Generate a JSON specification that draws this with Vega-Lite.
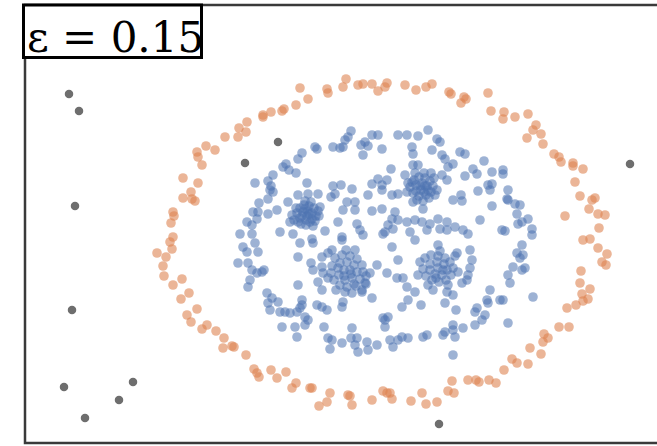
{
"$schema":"https://vega.github.io/schema/vega-lite/v6.json",
"width":634,"height":438,
"autosize":"none",
"padding":{"left":25,"top":5,"right":0,"bottom":3},
"background":"white",
"config":{"view":{"stroke":"#3a3a3a","strokeWidth":2.5}},
"datasets":{
"orange":[{"x":346,"y":79},{"x":343,"y":87},{"x":327,"y":89},{"x":328,"y":93},{"x":300,"y":88},{"x":308,"y":99},{"x":296,"y":105},{"x":284,"y":109},{"x":282,"y":111},{"x":271,"y":112},{"x":263,"y":115},{"x":263,"y":117},{"x":247,"y":122},{"x":239,"y":128},{"x":246,"y":132},{"x":238,"y":137},{"x":225,"y":137},{"x":206,"y":146},{"x":215,"y":150},{"x":197,"y":152},{"x":198,"y":157},{"x":202,"y":165},{"x":183,"y":178},{"x":198,"y":183},{"x":191,"y":192},{"x":183,"y":198},{"x":195,"y":201},{"x":192,"y":199},{"x":173,"y":212},{"x":174,"y":216},{"x":171,"y":223},{"x":173,"y":237},{"x":170,"y":242},{"x":358,"y":85},{"x":363,"y":84},{"x":372,"y":84},{"x":378,"y":91},{"x":387,"y":83},{"x":385,"y":87},
{"x":405,"y":85},{"x":416,"y":90},{"x":426,"y":87},{"x":432,"y":84},{"x":449,"y":92},{"x":451,"y":94},{"x":464,"y":97},{"x":466,"y":99},{"x":461,"y":103},{"x":488,"y":93},{"x":491,"y":111},{"x":504,"y":112},{"x":503,"y":119},{"x":515,"y":117},{"x":528,"y":114},{"x":536,"y":125},{"x":533,"y":130},{"x":541,"y":134},{"x":527,"y":138},{"x":543,"y":144},{"x":554,"y":154},{"x":559,"y":157},{"x":561,"y":162},{"x":573,"y":163},{"x":573,"y":166},{"x":583,"y":169},{"x":575,"y":182},{"x":580,"y":196},{"x":592,"y":200},{"x":595,"y":198},{"x":589,"y":209},{"x":598,"y":214},{"x":605,"y":215},{"x":565,"y":216},{"x":599,"y":228},{"x":583,"y":240},{"x":590,"y":239},{"x":598,"y":248},
{"x":607,"y":254},{"x":602,"y":262},{"x":606,"y":265},{"x":581,"y":271},{"x":580,"y":283},{"x":590,"y":289},{"x":582,"y":294},{"x":583,"y":301},{"x":588,"y":299},{"x":576,"y":305},{"x":567,"y":308},{"x":559,"y":327},{"x":569,"y":327},{"x":544,"y":334},{"x":548,"y":338},{"x":543,"y":342},{"x":530,"y":348},{"x":541,"y":354},{"x":512,"y":359},{"x":517,"y":363},{"x":528,"y":364},{"x":504,"y":370},{"x":489,"y":380},{"x":496,"y":383},{"x":479,"y":382},{"x":476,"y":380},{"x":468,"y":380},{"x":452,"y":381},{"x":448,"y":391},{"x":454,"y":393},{"x":437,"y":402},{"x":422,"y":393},{"x":411,"y":401},{"x":426,"y":404},{"x":392,"y":399},{"x":390,"y":393},
{"x":157,"y":253},{"x":166,"y":257},{"x":172,"y":249},{"x":163,"y":266},{"x":164,"y":276},{"x":173,"y":285},{"x":182,"y":279},{"x":189,"y":293},{"x":181,"y":299},{"x":197,"y":309},{"x":187,"y":315},{"x":191,"y":322},{"x":207,"y":325},{"x":202,"y":329},{"x":216,"y":331},{"x":224,"y":338},{"x":223,"y":348},{"x":232,"y":346},{"x":234,"y":347},{"x":246,"y":355},{"x":254,"y":369},{"x":257,"y":373},{"x":259,"y":377},{"x":271,"y":370},{"x":277,"y":378},{"x":286,"y":372},{"x":296,"y":383},{"x":292,"y":388},{"x":310,"y":388},{"x":312,"y":388},{"x":330,"y":393},{"x":327,"y":402},{"x":319,"y":406},{"x":348,"y":395},{"x":350,"y":396},{"x":352,"y":405},{"x":372,"y":400},{"x":383,"y":391},{"x":387,"y":393}],
"blue":[{"x":351,"y":131},{"x":348,"y":137},{"x":345,"y":140},{"x":372,"y":135},{"x":378,"y":135},{"x":365,"y":142},{"x":361,"y":145},{"x":368,"y":146},{"x":363,"y":155},{"x":382,"y":149},{"x":333,"y":147},{"x":340,"y":148},{"x":343,"y":147},{"x":315,"y":147},{"x":317,"y":149},{"x":302,"y":153},{"x":298,"y":159},{"x":286,"y":164},{"x":283,"y":167},{"x":289,"y":170},{"x":296,"y":173},{"x":273,"y":175},{"x":268,"y":181},{"x":255,"y":183},{"x":271,"y":186},{"x":270,"y":190},{"x":273,"y":192},{"x":307,"y":183},{"x":333,"y":186},{"x":341,"y":185},{"x":352,"y":189},{"x":335,"y":194},{"x":331,"y":197},{"x":318,"y":194},{"x":308,"y":194},{"x":298,"y":195},{"x":268,"y":199},{"x":259,"y":203},{"x":288,"y":202},{"x":347,"y":202},{"x":355,"y":202},{"x":368,"y":195},{"x":372,"y":184},{"x":378,"y":179},{"x":382,"y":185},{"x":382,"y":190},{"x":343,"y":210},{"x":355,"y":210},{"x":372,"y":211},{"x":382,"y":209},{"x":253,"y":212},{"x":258,"y":212},{"x":277,"y":210},{"x":268,"y":214},{"x":257,"y":219},{"x":247,"y":222},{"x":252,"y":225},{"x":240,"y":234},{"x":252,"y":234},{"x":280,"y":232},{"x":290,"y":222},{"x":293,"y":234},{"x":325,"y":231},{"x":338,"y":222},{"x":357,"y":224},{"x":360,"y":230},{"x":363,"y":235},{"x":342,"y":237},{"x":312,"y":239},{"x":383,"y":234},
{"x":398,"y":135},{"x":407,"y":135},{"x":418,"y":136},{"x":428,"y":130},{"x":437,"y":139},{"x":440,"y":142},{"x":412,"y":147},{"x":413,"y":154},{"x":432,"y":150},{"x":442,"y":155},{"x":445,"y":159},{"x":460,"y":152},{"x":465,"y":154},{"x":448,"y":167},{"x":453,"y":164},{"x":473,"y":169},{"x":477,"y":174},{"x":484,"y":161},{"x":492,"y":172},{"x":503,"y":170},{"x":503,"y":174},{"x":465,"y":176},{"x":488,"y":185},{"x":492,"y":184},{"x":490,"y":190},{"x":478,"y":191},{"x":508,"y":190},{"x":507,"y":199},{"x":508,"y":200},{"x":515,"y":204},{"x":520,"y":205},{"x":517,"y":214},{"x":518,"y":224},{"x":522,"y":222},{"x":528,"y":219},{"x":532,"y":229},{"x":532,"y":235},{"x":505,"y":231},{"x":502,"y":230},{"x":492,"y":206},{"x":480,"y":220},{"x":461,"y":195},{"x":462,"y":201},{"x":453,"y":200},{"x":391,"y":169},{"x":387,"y":180},{"x":392,"y":195},{"x":398,"y":194},{"x":405,"y":175},{"x":413,"y":165},{"x":418,"y":165},{"x":442,"y":175},{"x":447,"y":180},{"x":435,"y":195},{"x":423,"y":209},{"x":413,"y":202},{"x":395,"y":212},{"x":392,"y":219},{"x":398,"y":220},{"x":407,"y":222},{"x":415,"y":220},{"x":422,"y":222},{"x":430,"y":224},{"x":438,"y":219},{"x":447,"y":222},{"x":455,"y":227},{"x":463,"y":230},{"x":468,"y":234},{"x":447,"y":230},{"x":440,"y":229},{"x":427,"y":230},{"x":410,"y":232},{"x":393,"y":229},{"x":388,"y":225},{"x":385,"y":232},
{"x":243,"y":247},{"x":247,"y":252},{"x":255,"y":243},{"x":258,"y":252},{"x":238,"y":263},{"x":248,"y":263},{"x":252,"y":270},{"x":262,"y":272},{"x":264,"y":270},{"x":257,"y":273},{"x":250,"y":280},{"x":248,"y":287},{"x":267,"y":293},{"x":272,"y":298},{"x":268,"y":303},{"x":278,"y":302},{"x":270,"y":310},{"x":280,"y":312},{"x":285,"y":312},{"x":290,"y":313},{"x":297,"y":312},{"x":302,"y":300},{"x":302,"y":305},{"x":300,"y":308},{"x":305,"y":317},{"x":308,"y":320},{"x":282,"y":327},{"x":295,"y":327},{"x":305,"y":325},{"x":297,"y":337},{"x":317,"y":305},{"x":322,"y":307},{"x":327,"y":310},{"x":324,"y":327},{"x":328,"y":338},{"x":332,"y":340},{"x":330,"y":349},{"x":342,"y":343},{"x":342,"y":307},{"x":343,"y":302},{"x":352,"y":328},{"x":351,"y":338},{"x":357,"y":338},{"x":355,"y":345},{"x":358,"y":352},{"x":367,"y":342},{"x":377,"y":345},{"x":368,"y":350},{"x":383,"y":318},{"x":385,"y":327},{"x":372,"y":298},{"x":362,"y":292},{"x":298,"y":285},{"x":298,"y":257},{"x":300,"y":243},{"x":313,"y":243},{"x":311,"y":263},{"x":313,"y":270},{"x":318,"y":282},{"x":322,"y":290},{"x":323,"y":273},{"x":322,"y":267},{"x":322,"y":257},{"x":328,"y":253},{"x":332,"y":250},{"x":342,"y":240},{"x":377,"y":265},{"x":370,"y":273},{"x":365,"y":283},
{"x":392,"y":247},{"x":398,"y":260},{"x":387,"y":273},{"x":397,"y":278},{"x":403,"y":278},{"x":407,"y":287},{"x":415,"y":292},{"x":408,"y":300},{"x":402,"y":307},{"x":421,"y":305},{"x":445,"y":303},{"x":447,"y":292},{"x":453,"y":295},{"x":456,"y":310},{"x":462,"y":283},{"x":467,"y":280},{"x":468,"y":275},{"x":470,"y":268},{"x":472,"y":260},{"x":470,"y":250},{"x":457,"y":253},{"x":438,"y":245},{"x":415,"y":240},{"x":490,"y":290},{"x":487,"y":300},{"x":488,"y":303},{"x":477,"y":308},{"x":475,"y":312},{"x":485,"y":315},{"x":482,"y":320},{"x":475,"y":325},{"x":463,"y":328},{"x":453,"y":325},{"x":453,"y":330},{"x":445,"y":332},{"x":443,"y":335},{"x":455,"y":337},{"x":427,"y":335},{"x":423,"y":337},{"x":408,"y":338},{"x":402,"y":337},{"x":398,"y":340},{"x":390,"y":340},{"x":393,"y":347},{"x":388,"y":317},{"x":385,"y":320},{"x":453,"y":355},{"x":508,"y":323},{"x":503,"y":300},{"x":500,"y":300},{"x":510,"y":283},{"x":508,"y":275},{"x":513,"y":267},{"x":522,"y":270},{"x":525,"y":268},{"x":520,"y":258},{"x":523,"y":255},{"x":517,"y":253},{"x":522,"y":245},{"x":533,"y":297},
{"x":300,"y":208},{"x":304,"y":205},{"x":309,"y":206},{"x":314,"y":208},{"x":318,"y":211},{"x":316,"y":216},{"x":312,"y":219},{"x":306,"y":220},{"x":300,"y":218},{"x":297,"y":213},{"x":303,"y":212},{"x":308,"y":211},{"x":312,"y":213},{"x":307,"y":216},{"x":302,"y":216},{"x":310,"y":222},{"x":315,"y":221},{"x":319,"y":216},{"x":296,"y":208},{"x":305,"y":201},{"x":311,"y":202},{"x":298,"y":222},{"x":292,"y":215},{"x":320,"y":207},{"x":306,"y":225},{"x":313,"y":226},{"x":301,"y":224},{"x":309,"y":214},{"x":305,"y":209},{"x":294,"y":220},
{"x":414,"y":180},{"x":419,"y":177},{"x":425,"y":178},{"x":430,"y":181},{"x":433,"y":186},{"x":431,"y":192},{"x":426,"y":195},{"x":419,"y":196},{"x":413,"y":193},{"x":410,"y":187},{"x":416,"y":185},{"x":422,"y":183},{"x":427,"y":186},{"x":421,"y":190},{"x":416,"y":191},{"x":424,"y":192},{"x":428,"y":190},{"x":420,"y":186},{"x":412,"y":182},{"x":434,"y":178},{"x":417,"y":200},{"x":429,"y":198},{"x":407,"y":192},{"x":437,"y":190},{"x":424,"y":173},{"x":408,"y":183},{"x":423,"y":201},{"x":431,"y":173},{"x":415,"y":173},{"x":425,"y":186},
{"x":335,"y":258},{"x":342,"y":255},{"x":350,"y":256},{"x":357,"y":259},{"x":362,"y":265},{"x":363,"y":272},{"x":360,"y":279},{"x":354,"y":284},{"x":347,"y":287},{"x":340,"y":285},{"x":334,"y":280},{"x":331,"y":273},{"x":332,"y":266},{"x":340,"y":263},{"x":347,"y":262},{"x":354,"y":265},{"x":357,"y":272},{"x":352,"y":278},{"x":345,"y":280},{"x":339,"y":275},{"x":344,"y":270},{"x":350,"y":270},{"x":338,"y":268},{"x":356,"y":286},{"x":362,"y":290},{"x":345,"y":292},{"x":352,"y":293},{"x":366,"y":276},{"x":328,"y":278},{"x":336,"y":290},{"x":346,"y":250},{"x":355,"y":250},{"x":344,"y":276},{"x":351,"y":274},{"x":366,"y":284},
{"x":425,"y":258},{"x":431,"y":255},{"x":438,"y":256},{"x":445,"y":258},{"x":450,"y":262},{"x":453,"y":268},{"x":451,"y":275},{"x":446,"y":280},{"x":439,"y":282},{"x":432,"y":280},{"x":426,"y":276},{"x":423,"y":269},{"x":430,"y":264},{"x":437,"y":262},{"x":444,"y":264},{"x":447,"y":270},{"x":442,"y":275},{"x":435,"y":274},{"x":430,"y":270},{"x":438,"y":268},{"x":455,"y":256},{"x":420,"y":262},{"x":428,"y":285},{"x":448,"y":285},{"x":440,"y":251},{"x":458,"y":272},{"x":433,"y":290},{"x":418,"y":275},{"x":443,"y":270},{"x":436,"y":278}],
"noise":[{"x":69,"y":94},{"x":79,"y":111},{"x":75,"y":206},{"x":72,"y":310},{"x":64,"y":387},{"x":133,"y":382},{"x":119,"y":400},{"x":85,"y":418},{"x":278,"y":142},{"x":245,"y":163},{"x":630,"y":164},{"x":439,"y":424}],
"label":[{"x":23.5,"x2":201.5,"y":5,"y2":57.5,"tx":27,"ty":52,"text":"ε = 0.15"}]
},
"layer":[
{"data":{"name":"orange"},"mark":{"type":"circle","size":92,"color":"#DD8452","opacity":0.6,"clip":false},
 "encoding":{"x":{"field":"x","type":"quantitative","scale":{"domain":[25,659],"nice":false,"zero":false},"axis":null},
 "y":{"field":"y","type":"quantitative","scale":{"domain":[5,443],"nice":false,"zero":false,"reverse":true},"axis":null}}},
{"data":{"name":"blue"},"mark":{"type":"circle","size":92,"color":"#4C72B0","opacity":0.55,"clip":false},
 "encoding":{"x":{"field":"x","type":"quantitative"},"y":{"field":"y","type":"quantitative"}}},
{"data":{"name":"noise"},"mark":{"type":"circle","size":72,"color":"#6e6e6e","opacity":1,"clip":false},
 "encoding":{"x":{"field":"x","type":"quantitative"},"y":{"field":"y","type":"quantitative"}}},
{"data":{"name":"label"},"mark":{"type":"rect","fill":"white","stroke":"black","strokeWidth":3,"clip":false},
 "encoding":{"x":{"field":"x","type":"quantitative"},"x2":{"field":"x2"},"y":{"field":"y","type":"quantitative"},"y2":{"field":"y2"}}},
{"data":{"name":"label"},"mark":{"type":"text","font":"DejaVu Serif","fontSize":42,"align":"left","baseline":"alphabetic","color":"black","clip":false},
 "encoding":{"x":{"field":"tx","type":"quantitative"},"y":{"field":"ty","type":"quantitative"},"text":{"field":"text"}}}
]
}
